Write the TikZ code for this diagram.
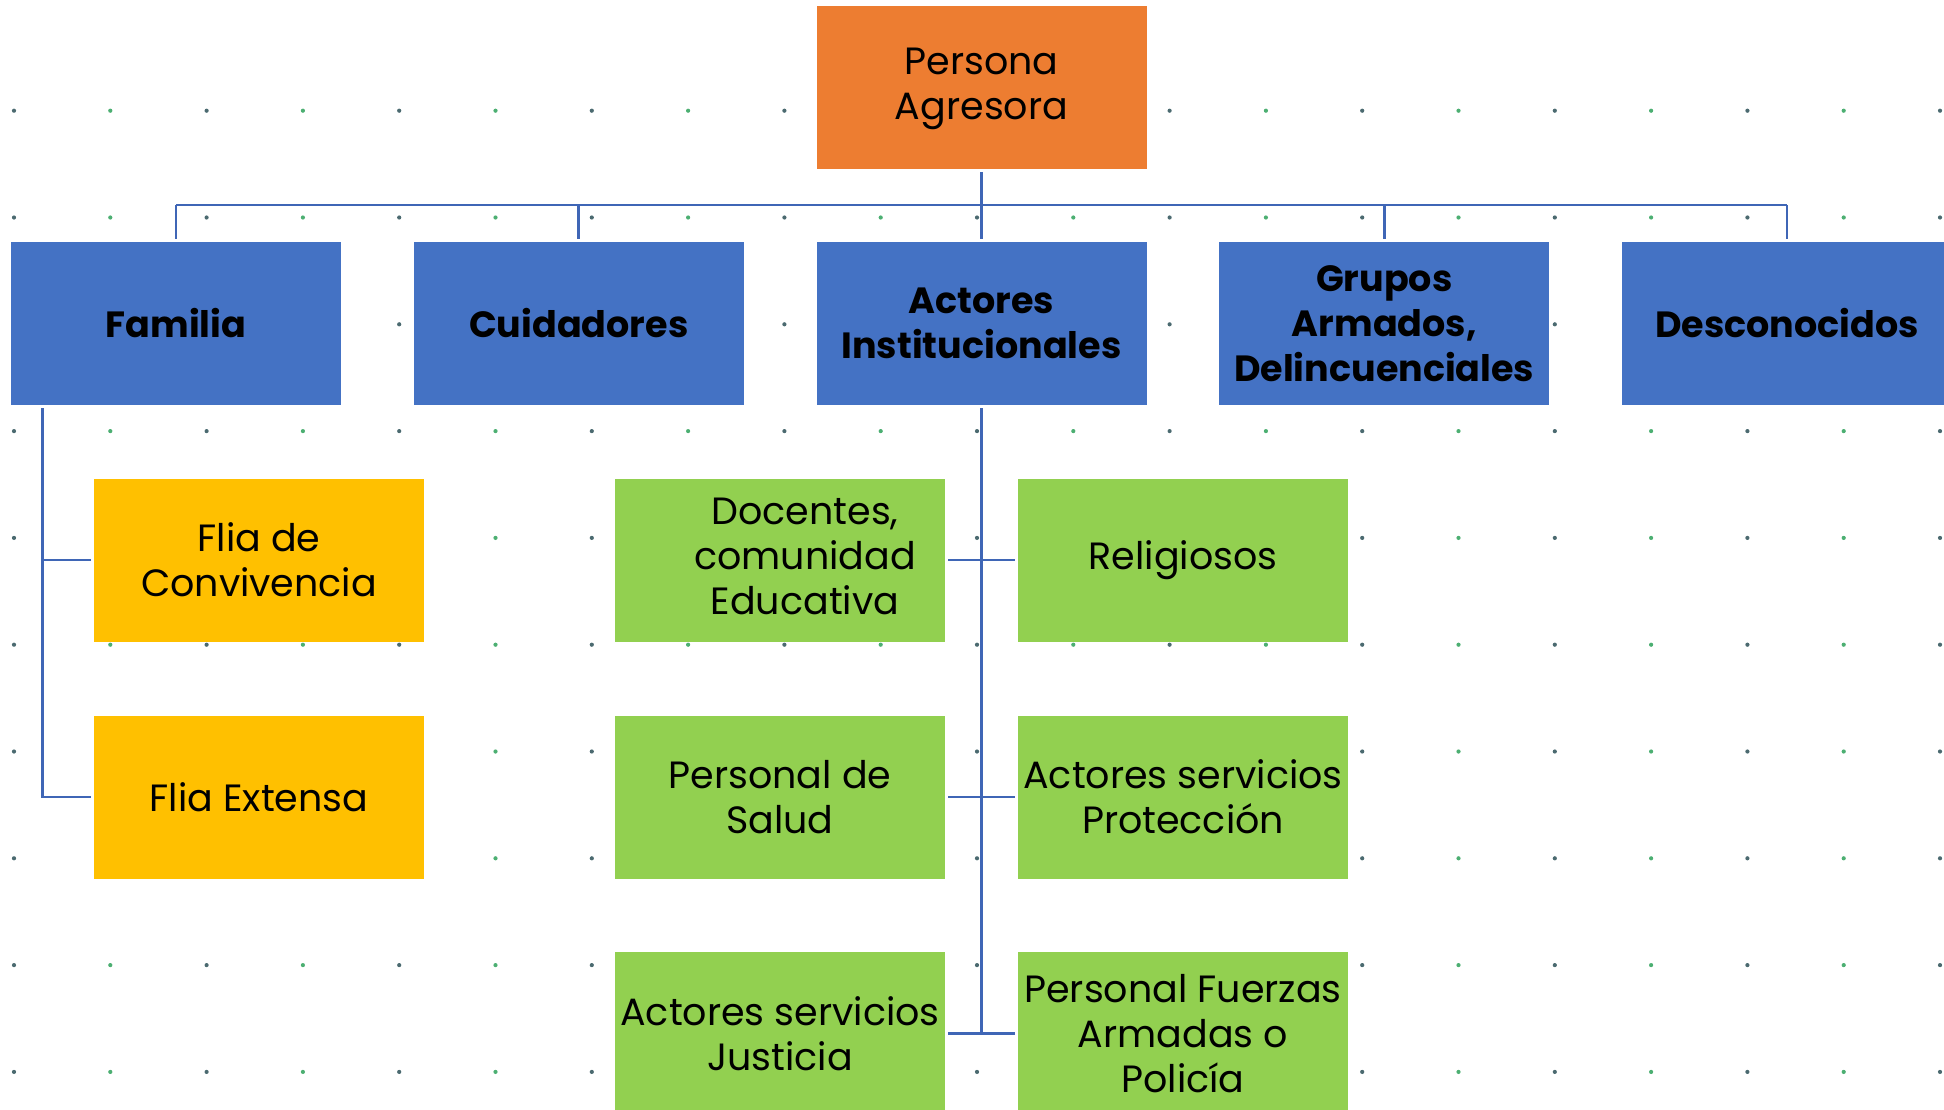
\documentclass[tikz,border=0pt]{standalone}
\usepackage{fontspec}
\setmainfont{Poppins}
\definecolor{cOrange}{HTML}{ED7D31}
\definecolor{cBlue}{HTML}{4472C4}
\definecolor{cYellow}{HTML}{FFC000}
\definecolor{cGreen}{HTML}{92D050}
\definecolor{cLine}{HTML}{3F66B6}
\definecolor{dotA}{HTML}{4B6A70}
\definecolor{dotB}{HTML}{4CAF72}
\begin{document}
\begin{tikzpicture}[x=1pt,y=-1pt,
  box/.style={rectangle, minimum width=330pt, minimum height=163pt, inner sep=0pt, align=center, text=black, font=\fontsize{38}{45}\selectfont},
  boldbox/.style={box, fill=cBlue, font=\fontsize{36.5}{45}\selectfont\bfseries},
  conn/.style={draw=cLine, line width=2.7pt}]
\useasboundingbox (0,0) rectangle (1944,1109);
\clip (0,0) rectangle (1944,1109);
% dot grid
\foreach \i in {0,...,20}{
  \foreach \j in {1,...,10}{
    \pgfmathtruncatemacro{\dpar}{mod(\i,2)}
    \ifnum\dpar=0 \fill[dotA] (14+96.3*\i, 3.9+106.8*\j) circle (2.1pt);
    \else \fill[dotB] (14+96.3*\i, 3.9+106.8*\j) circle (2.1pt); \fi
  }
}
% top
\node[box, fill=cOrange] (root) at (981.5,87.5) {\raisebox{-4pt}{\begin{tabular}{@{}c@{}}Persona\\Agresora\end{tabular}}};
% second level
\node[boldbox] (fam) at (176,323.5) {Familia};
\node[boldbox] (cui) at (578.75,323.5) {Cuidadores};
\node[boldbox] (act) at (981.5,323.5) {Actores\\Institucionales};
\node[boldbox] (gru) at (1384.25,323.5) {Grupos\\Armados,\\Delincuenciales};
\node[boldbox] (des) at (1787,323.5) {Desconocidos};
% family children
\node[box, fill=cYellow] (fc) at (259,560) {Flia de\\Convivencia};
\node[box, fill=cYellow] (fe) at (259,797) {Flia Extensa};
% institutional children
\node[box, fill=cGreen, text width=330pt] (doc) at (780,560) {\hspace*{50pt}\begin{tabular}{@{}c@{}}Docentes,\\comunidad\\Educativa\end{tabular}};
\node[box, fill=cGreen] (rel) at (1183,560) {Religiosos};
\node[box, fill=cGreen] (sal) at (780,797) {Personal de\\Salud};
\node[box, fill=cGreen] (pro) at (1183,797) {Actores servicios\\Protección};
\node[box, fill=cGreen] (jus) at (780,1033.5) {Actores servicios\\Justicia};
\node[box, fill=cGreen] (pol) at (1183,1033.5) {Personal Fuerzas\\Armadas o\\Policía};
% connectors
\coordinate (bus) at (0,205);
\coordinate (famtrunk) at (42.3,0);
\draw[conn] ([yshift=-3pt]root.south) -- ([yshift=3pt]act.north);
\draw[conn] (fam.north |- bus) -- (des.north |- bus);
\foreach \n in {fam,cui,gru,des}{
  \draw[conn] (\n.north |- bus) -- ([yshift=3pt]\n.north);
}
\draw[conn] ([yshift=-3pt]fam.south -| famtrunk) -- (fe.west -| famtrunk) -- ([xshift=-3pt]fe.west);
\draw[conn] (fc.west -| famtrunk) -- ([xshift=-3pt]fc.west);
\draw[conn] ([yshift=-3pt]act.south) -- (act.south |- jus.east);
\draw[conn] ([xshift=3pt]doc.east) -- ([xshift=-3pt]rel.west);
\draw[conn] ([xshift=3pt]sal.east) -- ([xshift=-3pt]pro.west);
\draw[conn] ([xshift=3pt]jus.east) -- ([xshift=-3pt]pol.west);
\end{tikzpicture}
\end{document}
